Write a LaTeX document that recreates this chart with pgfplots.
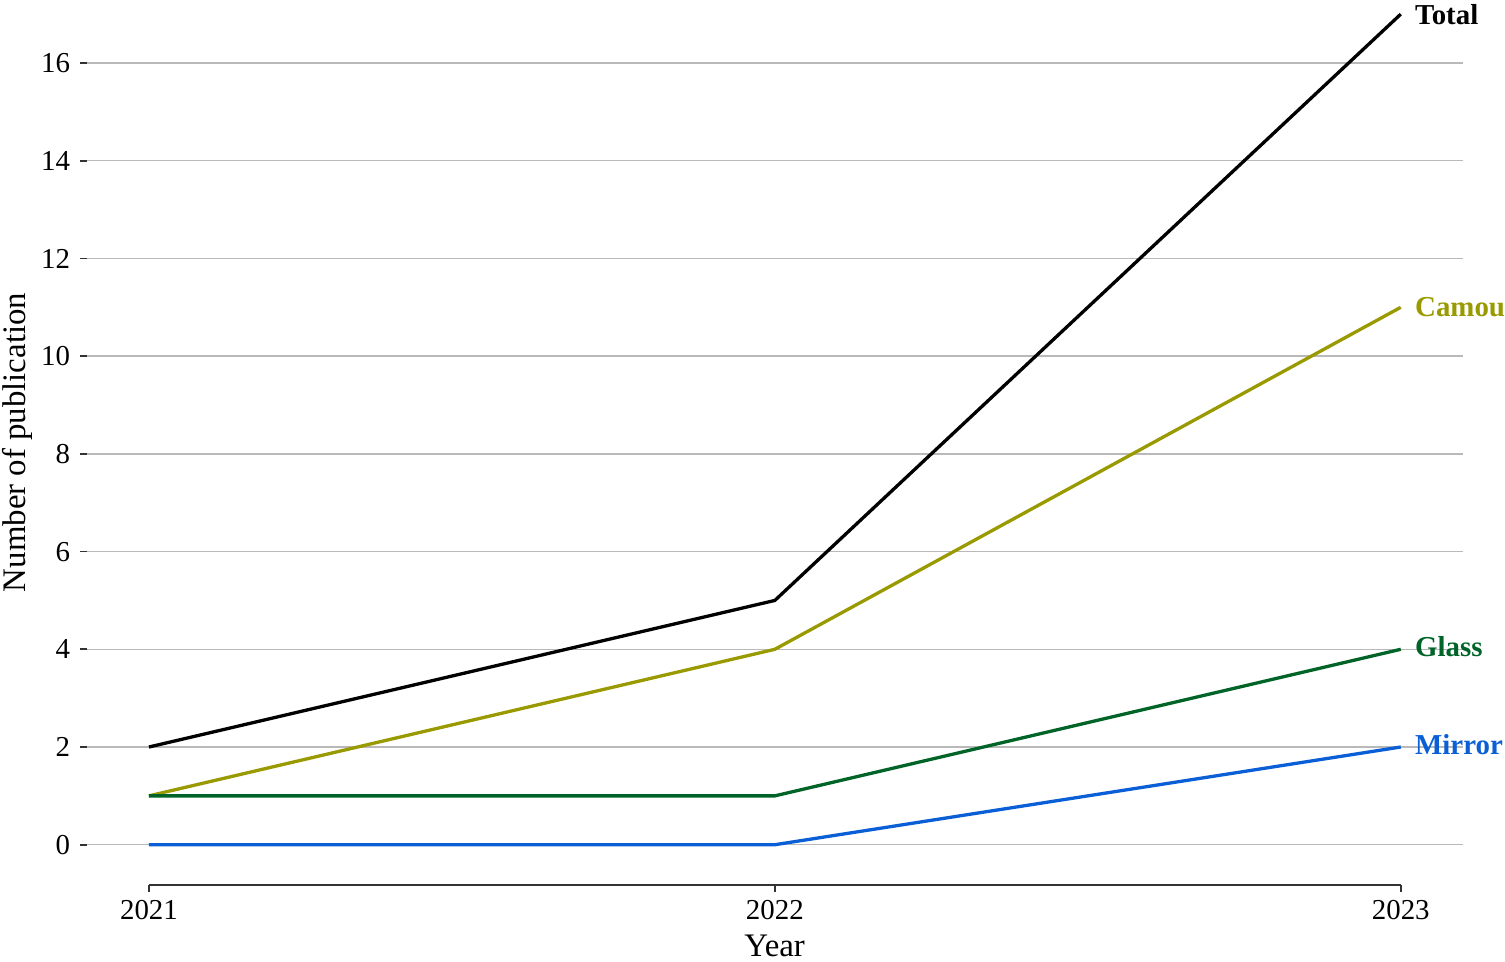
\documentclass[border=0pt]{standalone}
\usepackage{pgfplots}
\pgfplotsset{compat=1.18}
\usepackage{fontspec}
\setmainfont{Liberation Serif}
\definecolor{camou}{RGB}{153,153,0}
\definecolor{glass}{RGB}{0,100,40}
\definecolor{mirror}{RGB}{10,95,215}
\definecolor{axgray}{RGB}{51,51,51}
\begin{document}
\fontsize{14.5}{17}\selectfont
\begin{tikzpicture}
\begin{axis}[
  scale only axis,
  width=688.5bp, height=442.6bp,
  xmin=2020.901, xmax=2023.1, ymin=-0.82, ymax=17.29,
  axis lines*=left,
  axis line style={draw=none},
  xtick={2021,2022,2023},
  xticklabels={2021,2022,2023},
  ytick={0,2,4,6,8,10,12,14,16},
  tick align=outside,
  major tick length=3.5bp,
  tick style={axgray, line width=0.8bp},
  ymajorgrids,
  grid style={gray!55, line width=0.7bp},
  /pgf/number format/assume math mode=true,
  /pgf/number format/1000 sep={},
  tick label style={font=\fontsize{14.5}{17}\selectfont},
  xticklabel style={yshift=1bp},
  xlabel={Year},
  ylabel={Number of publication},
  label style={font=\fontsize{16.5}{19}\selectfont, inner sep=1bp},
  xlabel style={at={(axis description cs:0.4996,-0.0690)}, anchor=center, inner sep=2.5bp},
  ylabel style={at={(axis description cs:-0.0508,0.5)}, anchor=center},
  clip=false,
]
\addplot[camou, line width=1.65bp] coordinates {(2021,1) (2022,4) (2023,11)};
\addplot[glass, line width=1.65bp] coordinates {(2021,1) (2022,1) (2023,4)};
\addplot[mirror, line width=1.65bp] coordinates {(2021,0) (2022,0) (2023,2)};
\addplot[black, line width=1.65bp] coordinates {(2021,2) (2022,5) (2023,17)};
\draw[axgray, line width=0.9bp] (axis cs:2021,-0.82) -- (axis cs:2023,-0.82);
\node[anchor=west, inner sep=0pt, xshift=7bp, font=\bfseries, text=black] at (axis cs:2023,17) {Total};
\node[anchor=west, inner sep=0pt, xshift=7bp, font=\bfseries, text=camou] at (axis cs:2023,11) {Camou};
\node[anchor=west, inner sep=0pt, xshift=7bp, font=\bfseries, text=glass] at (axis cs:2023,4.05) {Glass};
\node[anchor=west, inner sep=0pt, xshift=7bp, font=\bfseries, text=mirror] at (axis cs:2023,2.05) {Mirror};
\end{axis}
\end{tikzpicture}
\end{document}
